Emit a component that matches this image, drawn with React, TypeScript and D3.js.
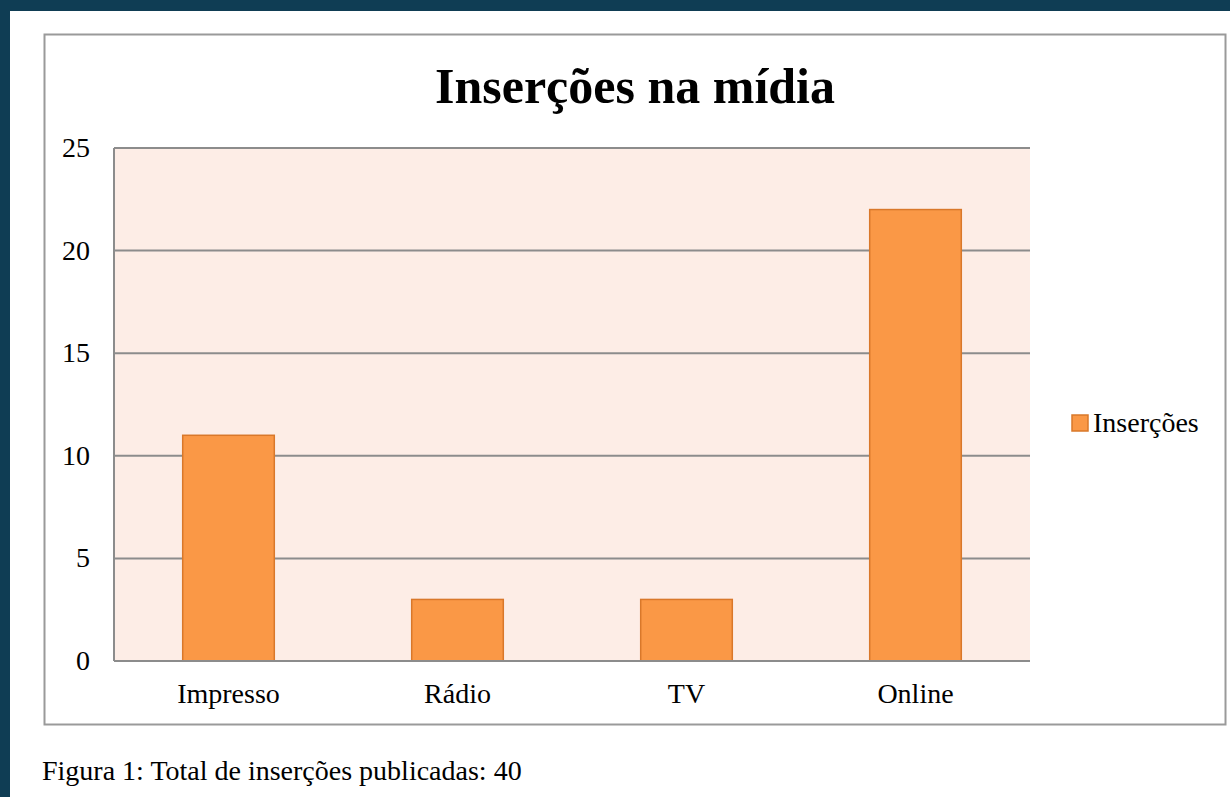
import React from "react";
import * as d3 from "d3";

const categories = ["Impresso", "Rádio", "TV", "Online"];
const values = [11, 3, 3, 22];
const yTicks = [0, 5, 10, 15, 20, 25];
const seriesName = "Inserções";
const title = "Inserções na mídia";
const caption = "Figura 1: Total de inserções publicadas: 40";

const W = 1230;
const H = 797;
const plot = { left: 114, right: 1030, top: 148, bottom: 661 };
const FONT = "'Liberation Serif', 'Times New Roman', serif";

export default function App() {
  const x = d3
    .scaleBand<string>()
    .domain(categories)
    .range([plot.left, plot.right])
    .paddingInner(0.6)
    .paddingOuter(0.3);
  const y = d3.scaleLinear().domain([0, 25]).range([plot.bottom, plot.top]);

  return (
    <svg
      width={W}
      height={H}
      style={{ position: "absolute", left: 0, top: 0, display: "block" }}
    >
      <rect x={0} y={0} width={W} height={H} fill="#0f3d54" />
      <rect x={10} y={11} width={W - 10} height={H - 11} fill="#ffffff" />
      <rect x={44.5} y={34.5} width={1181} height={690} fill="#ffffff" stroke="#9a9a9a" strokeWidth={2} />
      <text x={635} y={103} textAnchor="middle" fontFamily={FONT} fontWeight="bold" fontSize={50} fill="#000">
        {title}
      </text>
      <rect x={plot.left} y={plot.top} width={plot.right - plot.left} height={plot.bottom - plot.top} fill="#fdede6" />
      {yTicks.map((t) => (
        <g key={t}>
          <line x1={plot.left} x2={plot.right} y1={y(t)} y2={y(t)} stroke="#8c8c8c" strokeWidth={2} />
          <text x={90} y={y(t) + 9} textAnchor="end" fontFamily={FONT} fontSize={28} fill="#000">
            {t}
          </text>
        </g>
      ))}
      <line x1={plot.left} x2={plot.left} y1={plot.top} y2={plot.bottom} stroke="#8c8c8c" strokeWidth={2} />
      {categories.map((c, i) => (
        <rect
          key={c}
          x={x(c)}
          y={y(values[i])}
          width={x.bandwidth()}
          height={y(0) - y(values[i])}
          fill="#fa9846"
          stroke="#d9782a"
          strokeWidth={1.5}
        />
      ))}
      <line x1={plot.left} x2={plot.right} y1={y(0)} y2={y(0)} stroke="#8c8c8c" strokeWidth={2} />
      {categories.map((c) => (
        <text
          key={c}
          x={(x(c) as number) + x.bandwidth() / 2}
          y={703}
          textAnchor="middle"
          fontFamily={FONT}
          fontSize={28}
          fill="#000"
        >
          {c}
        </text>
      ))}
      <rect x={1072} y={415} width={16} height={16} fill="#fa9846" stroke="#d9782a" strokeWidth={1.5} />
      <text x={1093} y={432} fontFamily={FONT} fontSize={28} fill="#000">
        {seriesName}
      </text>
      <text x={42} y={780} fontFamily={FONT} fontSize={28} fill="#000">
        {caption}
      </text>
    </svg>
  );
}
